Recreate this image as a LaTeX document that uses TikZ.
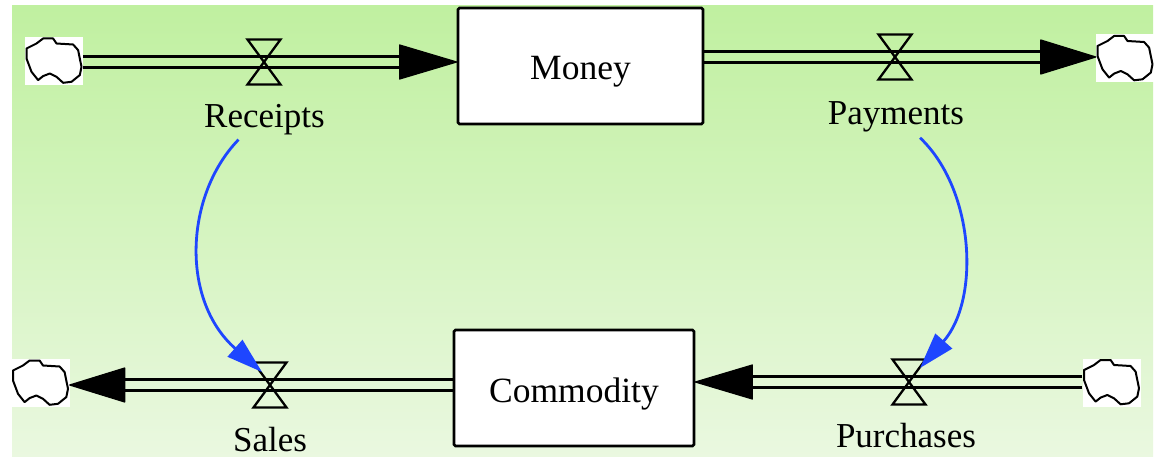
\documentclass[tikz,border=0pt]{standalone}
\usepackage{fontspec}
\setmainfont{Liberation Serif}
\usetikzlibrary{arrows.meta,calc}
\definecolor{bgtop}{RGB}{192,240,160}
\definecolor{bgbot}{RGB}{234,248,224}
\definecolor{infl}{RGB}{30,70,255}
\newcommand\pipepair[2]{%
  \draw[pipeline] ([yshift=5.5pt]#1) -- ([yshift=5.5pt]#2);
  \draw[pipeline] ([yshift=-5.5pt]#1) -- ([yshift=-5.5pt]#2);}
\newcommand\cloudoutline[1]{%
  \draw[cloudline, shift={(#1.north west)}]
      (1.7,11.7) -- (11.7,6.7) -- (18.3,1.7) -- (28.3,1.7) -- (31.7,6.7) -- (48.3,7.7)
      -- (53.3,13.3) -- (56.7,30) -- (55,38.3) -- (46.7,45) -- (38.3,46) -- (31.7,40)
      -- (25,36.7) -- (18.3,39.3) -- (13.3,43.3) -- (6.7,35) -- (1.7,21.7) -- cycle;}
\begin{document}
\begin{tikzpicture}[x=1pt,y=-1pt,
  stock/.style={draw=black, fill=white, line width=2.6pt, rounded corners=1.5pt,
    inner sep=0pt, text height=28pt, text depth=0pt, font=\fontsize{35.5}{40}\selectfont},
  lbl/.style={anchor=base, inner sep=1pt, font=\fontsize{35}{40}\selectfont},
  cloudbox/.style={fill=white, minimum width=58pt, minimum height=48pt, inner sep=0pt},
  cloudline/.style={draw=black, line width=2pt, line join=round},
  pipeline/.style={draw=black, line width=2.8pt},
  headfill/.style={fill=black, draw=black, line width=1.2pt, line join=round},
  valve/.style={draw=black, line width=2.3pt, line join=miter},
  influence/.style={draw=infl, line width=2.8pt, -{Triangle[length=36pt,width=22pt]}}
]
\useasboundingbox (0,0) rectangle (1159,457);
\fill[white] (0,0) rectangle (1159,457);
\shade[top color=bgtop, bottom color=bgbot] (12,6) rectangle (1153,457);

% valve centres
\coordinate (v1) at (264,62);
\coordinate (v2) at (895,57);
\coordinate (v3) at (270,385);
\coordinate (v4) at (909,382);

% stocks
\node[stock, minimum width=245pt, minimum height=116pt] (money) at (580.5,66) {Money};
\node[stock, minimum width=240pt, minimum height=116pt] (commodity) at (574,388) {Commodity};

% clouds
\node[cloudbox] (c1) at (54,61) {};
\node[cloudbox] (c2) at (1125,58.5) {};
\node[cloudbox] (c3) at (40.5,383) {};
\node[cloudbox] (c4) at (1111.5,382.5) {};
\foreach \c in {c1,c2,c3,c4}{\cloudoutline{\c}}

% flow 1: Receipts
\coordinate (f1s) at (c1.east |- v1);
\coordinate (f1t) at (money.west |- v1);
\coordinate (f1b) at ($(f1t)+(-57,0)$);
\pipepair{f1s}{f1b}
\filldraw[headfill] (f1t) -- ($(f1b)+(0,-17)$) -- ($(f1b)+(0,17)$) -- cycle;

% flow 2: Payments
\coordinate (f2s) at (money.east |- v2);
\coordinate (f2t) at (c2.west |- v2);
\coordinate (f2b) at ($(f2t)+(-55,0)$);
\pipepair{f2s}{f2b}
\filldraw[headfill] (f2t) -- ($(f2b)+(0,-17)$) -- ($(f2b)+(0,17)$) -- cycle;

% flow 3: Sales
\coordinate (f3s) at (commodity.west |- v3);
\coordinate (f3t) at (c3.east |- v3);
\coordinate (f3b) at ($(f3t)+(55,0)$);
\pipepair{f3s}{f3b}
\filldraw[headfill] (f3t) -- ($(f3b)+(0,-17)$) -- ($(f3b)+(0,17)$) -- cycle;

% flow 4: Purchases
\coordinate (f4s) at (c4.west |- v4);
\coordinate (f4t) at (commodity.east |- v4);
\coordinate (f4b) at ($(f4t)+(57,0)$);
\pipepair{f4s}{f4b}
\filldraw[headfill] (f4t) -- ($(f4b)+(0,-17)$) -- ($(f4b)+(0,17)$) -- cycle;

% valves
\foreach \v in {v1,v2,v3,v4}{
  \draw[valve] (\v) +(-16.5,-22.5) -- +(16.5,-22.5) -- +(-16.5,22.5) -- +(16.5,22.5) -- cycle;
}

% labels
\node[lbl] (receipts) at (264.5,128) {Receipts};
\node[lbl] (payments) at (896,125) {Payments};
\node[lbl] (sales) at (270,451) {Sales};
\node[lbl] (purchases) at (906,447) {Purchases};

% influences
\draw[influence] ([xshift=-26pt,yshift=-3pt]receipts.south)
  .. controls (185,195) and (180,300) .. ([xshift=-8pt,yshift=13pt]v3);
\draw[influence] ([xshift=24pt,yshift=-4pt]payments.south)
  .. controls (975,190) and (980,300) .. ([xshift=11pt,yshift=14pt]v4);
\end{tikzpicture}
\end{document}
